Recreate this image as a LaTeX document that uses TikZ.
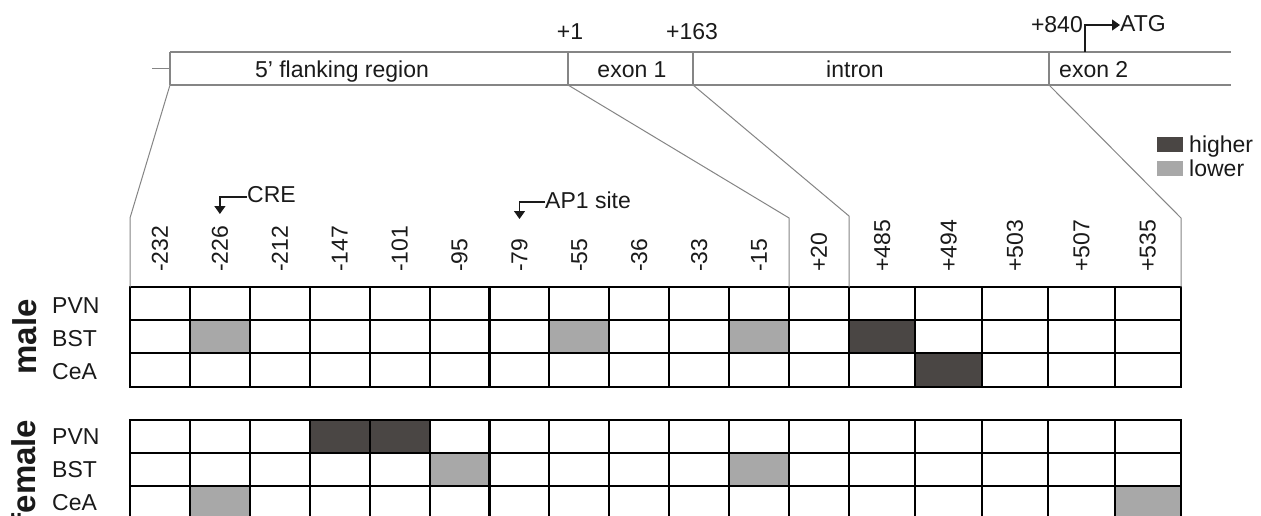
\documentclass[tikz,border=0pt]{standalone}
\usepackage{fontspec}
\setmainfont{Liberation Sans}
\usetikzlibrary{arrows.meta}
\definecolor{hi}{HTML}{4A4644}
\definecolor{lo}{HTML}{A8A8A8}
\definecolor{geneline}{HTML}{858585}
\definecolor{txt}{HTML}{1A1A1A}
\begin{document}
\begin{tikzpicture}[x=1pt,y=-1pt,
  lbl/.style={inner sep=0pt, font=\fontsize{23}{27}\selectfont, text=txt},
  collbl/.style={lbl, rotate=90, anchor=west},
  sexlbl/.style={inner sep=0pt, font=\fontsize{33}{38}\selectfont\bfseries, rotate=90, text=txt},
  gene/.style={draw=geneline, line width=1.2pt},
  fan/.style={draw=geneline, line width=1pt},
  gridline/.style={draw=black, line width=2.1pt},
  marker/.style={draw=txt, line width=1.3pt, -{Triangle[width=11pt,length=8pt]}},
  swatch/.style={inner sep=0pt, minimum width=26pt, minimum height=15pt},
]
\useasboundingbox (0,0) rectangle (1261,516);
\fill[white] (0,0) rectangle (1261,516);

% ---------------- gene structure ----------------
\coordinate (stub) at (152,68.5);
\coordinate (stubend) at (170,68.5);
\coordinate (g0t) at (170,52);  \coordinate (g0b) at (170,85);
\coordinate (g1t) at (568,52);  \coordinate (g1b) at (568,85);
\coordinate (g2t) at (693,52);  \coordinate (g2b) at (693,85);
\coordinate (g3t) at (1049,52); \coordinate (g3b) at (1049,85);
\coordinate (gendt) at (1231,52); \coordinate (gendb) at (1231,85);
\draw[gene] (stub) -- (stubend);
\draw[gene] (g0t) -- (gendt);
\draw[gene] (g0b) -- (gendb);
\draw[gene] (g0t) -- (g0b);
\draw[gene] (g1t) -- (g1b);
\draw[gene] (g2t) -- (g2b);
\draw[gene] (g3t) -- (g3b);

\node[lbl, anchor=base] (flank) at (342,77.5) {5’ flanking region};
\node[lbl, anchor=base] (exon1) at (632,77.5) {exon 1};
\node[lbl, anchor=base] (intron) at (855,77.5) {intron};
\node[lbl, anchor=base west] (exon2) at (1059,77.5) {exon 2};
\node[lbl, anchor=base] (p1) at (570,40) {+1};
\node[lbl, anchor=base] (p163) at (692,40) {+163};
\node[lbl, anchor=base east] (p840) at (1083,33) {+840};
\node[lbl, anchor=base west] (ATG) at (1120,32) {ATG};
\coordinate (atgbase) at (1085,52);
\coordinate (atgcorner) at (1085,25);
\draw[marker] (atgbase) -- (atgcorner) -- (ATG.west |- atgcorner);

% ---------------- legend ----------------
\node[swatch, fill=hi, anchor=south west] (hisq) at (1157,152) {};
\node[swatch, fill=lo, anchor=south west] (losq) at (1157,176) {};
\node[lbl, anchor=base west] (hitxt) at (1189,153) {higher};
\node[lbl, anchor=base west] (lotxt) at (1189,176.5) {lower};

% ---------------- grid geometry ----------------
\def\bx{{130,189.92,249.83,309.75,369.67,429.58,489.5,549.42,609.33,669.25,729.17,789.08,849,915.4,981.8,1048.2,1114.6,1181}}
\def\rh{33.2}

% shaded cells (column/row/colour) for male (top 287) and female (top 420)
\foreach \c/\r/\col in {1/1/lo,7/1/lo,10/1/lo,12/1/hi,13/2/hi}{
  \pgfmathsetmacro\xa{\bx[\c]}\pgfmathsetmacro\xe{\bx[\c+1]}
  \pgfmathsetmacro\ya{287+\r*\rh}
  \fill[\col] (\xa,\ya) rectangle (\xe,\ya+\rh);
}
\foreach \c/\r/\col in {3/0/hi,4/0/hi,5/1/lo,10/1/lo,1/2/lo,16/2/lo}{
  \pgfmathsetmacro\xa{\bx[\c]}\pgfmathsetmacro\xe{\bx[\c+1]}
  \pgfmathsetmacro\ya{420+\r*\rh}
  \fill[\col] (\xa,\ya) rectangle (\xe,\ya+\rh);
}

% grid lines
\foreach \top in {287,420}{
  \foreach \k in {0,...,17}{
    \pgfmathsetmacro\xx{\bx[\k]}
    \draw[gridline] (\xx,\top) -- (\xx,\top+3*\rh);
  }
  \foreach \r in {0,...,3}{
    \draw[gridline, line cap=rect] (130,\top+\r*\rh) -- (1181,\top+\r*\rh);
  }
}

% named top corners of the male grid
\coordinate (m0) at (130,287);
\coordinate (m11) at (789.08,287);
\coordinate (m12) at (849,287);
\coordinate (m17) at (1181,287);

% ---------------- fan lines ----------------
\coordinate (f1) at (130,218);
\coordinate (f2) at (789.08,218);
\coordinate (f3) at (849,216);
\coordinate (f4) at (1181,218);
\draw[fan] (g0b) -- (f1) -- (m0);
\draw[fan] (g1b) -- (f2) -- (m11);
\draw[fan] (g2b) -- (f3) -- (m12);
\draw[fan] (g3b) -- (f4) -- (m17);

% ---------------- column labels ----------------
\foreach \t [count=\i from 0] in {-232,-226,-212,-147,-101,-95,-79,-55,-36,-33,-15,+20,+485,+494,+503,+507,+535}{
  \pgfmathsetmacro\xa{\bx[\i]}
  \pgfmathsetmacro\xe{\bx[\i+1]}
  \pgfmathsetmacro\cx{(\xa+\xe)/2}
  \node[collbl] (col\i) at (\cx,272) {\t};
}

% ---------------- site markers ----------------
\node[lbl, anchor=base west] (CRE) at (247,202) {CRE};
\coordinate (creC) at (219.9,197);
\coordinate (creTip) at (219.9,214);
\draw[marker] (CRE.west |- creC) -- (creC) -- (creTip);

\node[lbl, anchor=base west] (AP1) at (545,208) {AP1 site};
\coordinate (apC) at (519.5,202);
\coordinate (apTip) at (519.5,219);
\draw[marker] (AP1.west |- apC) -- (apC) -- (apTip);

% ---------------- row labels ----------------
\node[lbl, anchor=base west] (mPVN) at (52,313) {PVN};
\node[lbl, anchor=base west] (mBST) at (52,346) {BST};
\node[lbl, anchor=base west] (mCeA) at (52,379) {CeA};
\node[lbl, anchor=base west] (fPVN) at (52,444.5) {PVN};
\node[lbl, anchor=base west] (fBST) at (52,477.5) {BST};
\node[lbl, anchor=base west] (fCeA) at (52,510.5) {CeA};
\node[sexlbl] (male) at (25,337) {male};
\node[sexlbl] (female) at (24,472) {female};
\end{tikzpicture}
\end{document}
